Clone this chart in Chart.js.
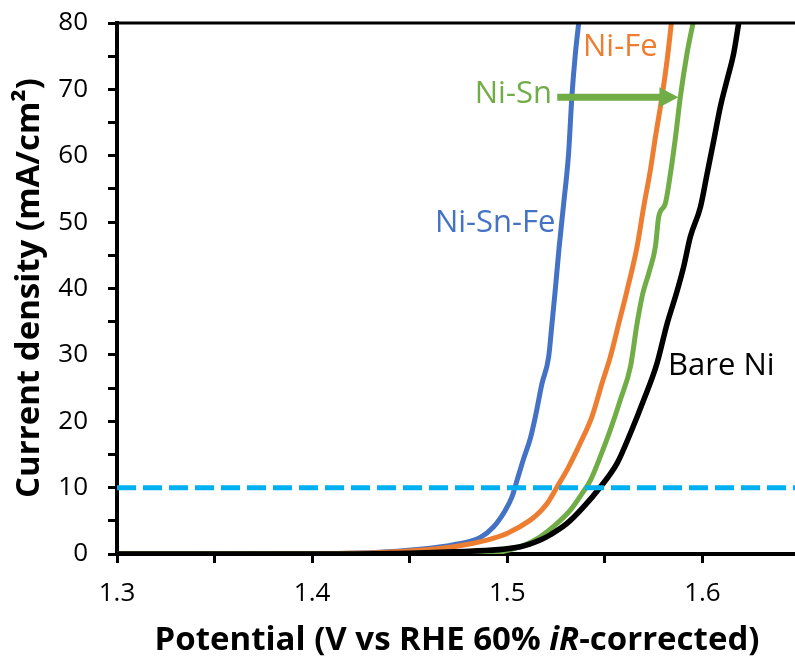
<!DOCTYPE html>
<html>
<head>
<meta charset="utf-8">
<script src="https://cdn.jsdelivr.net/npm/chart.js@4"></script>
<style>
  html, body { margin: 0; padding: 0; background: #fff; overflow: hidden; }
  #wrap { width: 800px; height: 660px; }
</style>
</head>
<body>
<div id="wrap"><canvas id="lsv" width="800" height="660"></canvas></div>
<script>
// Polarisation curves: potential (V vs RHE, 60% iR-corrected) and current density (mA/cm2)
const niSnFeV = [1.300, 1.350, 1.400, 1.430, 1.455, 1.4725, 1.4862, 1.4930, 1.4990, 1.5024, 1.5050, 1.5084, 1.5118, 1.5144, 1.5178, 1.5212, 1.5229, 1.5245, 1.5265, 1.5289, 1.5314, 1.5331, 1.5349, 1.5366];
const niSnFeJ = [0.0, 0.0, 0.05, 0.2, 0.7, 1.4, 2.5, 4.1, 6.6, 8.6, 11.1, 14.4, 17.4, 20.7, 25.7, 29.7, 34.7, 39.5, 46.0, 52.8, 60.3, 68.9, 75.4, 80.0];

const niFeV = [1.300, 1.400, 1.440, 1.4725, 1.4896, 1.4998, 1.5118, 1.5169, 1.5204, 1.5255, 1.5314, 1.5374, 1.5434, 1.5485, 1.5528, 1.5571, 1.5612, 1.5665, 1.5699, 1.5733, 1.5759, 1.5793, 1.5819, 1.5841];
const niFeJ = [0.0, 0.05, 0.3, 1.1, 2.1, 3.1, 5.1, 6.4, 7.6, 10.1, 13.1, 16.7, 20.7, 25.7, 29.7, 34.7, 39.5, 46.3, 52.3, 57.8, 62.8, 68.9, 74.4, 80.0];

const niSnV = [1.300, 1.450, 1.4896, 1.5067, 1.5169, 1.5255, 1.5323, 1.5383, 1.5426, 1.5477, 1.5528, 1.5579, 1.5631, 1.5665, 1.5694, 1.5725, 1.5759, 1.5776, 1.5810, 1.5836, 1.5862, 1.5887, 1.5921, 1.5952];
const niSnJ = [0.0, 0.0, 0.1, 1.1, 2.6, 4.6, 6.6, 9.1, 11.1, 14.7, 18.7, 23.2, 28.2, 34.7, 39.2, 42.3, 46.3, 50.8, 52.8, 57.3, 62.8, 68.9, 75.4, 80.0];

const bareNiV = [1.300, 1.400, 1.4725, 1.5067, 1.5169, 1.5221, 1.5306, 1.5391, 1.5477, 1.5563, 1.5631, 1.5699, 1.5767, 1.5819, 1.5866, 1.5904, 1.5938, 1.5990, 1.6024, 1.6058, 1.6092, 1.6126, 1.6160, 1.6186];
const bareNiJ = [0.0, 0.0, 0.35, 1.1, 2.1, 2.9, 4.6, 7.1, 10.1, 13.7, 18.2, 23.2, 28.7, 34.7, 39.2, 43.3, 47.8, 52.3, 57.3, 62.3, 67.4, 71.4, 75.4, 80.0];

// 10 mA/cm2 benchmark line
const benchmarkJ = 10;

// Axis ranges and tick spacing
const xMin = 1.3, xMax = 1.65, xStep = 0.05;
const yMin = 0, yMax = 80, yStep = 5;

// Curve labels: [text, potential, current density, colour]
const curveLabels = [
  ['Ni-Fe', 1.5579, 76.4, '#ED7D31'],
  ['Ni-Sn', 1.5031, 69.3, '#70AD47'],
  ['Ni-Sn-Fe', 1.4938, 49.8, '#4472C4'],
  ['Bare Ni', 1.6097, 28.3, '#000000']
];
// Arrow from the Ni-Sn label to its curve: [x start, x tip, current density]
const nisnArrow = [1.5256, 1.5877, 68.8];

const FONT = '"Open Sans", "DejaVu Sans", sans-serif';

function pts(xs, ys) { return xs.map((x, i) => ({ x: x, y: ys[i] })); }

const overlay = {
  id: 'overlay',
  afterDatasetsDraw(chart) {
    const { ctx, chartArea, scales } = chart;
    const xs = scales.x, ys = scales.y;
    ctx.save();
    // top frame line
    ctx.strokeStyle = '#000';
    ctx.lineWidth = 3;
    ctx.beginPath();
    ctx.moveTo(chartArea.left, chartArea.top);
    ctx.lineTo(chartArea.right, chartArea.top);
    ctx.stroke();

    // curve labels
    ctx.font = '31px ' + FONT;
    ctx.textAlign = 'center';
    ctx.textBaseline = 'middle';
    curveLabels.forEach(([t, vx, vy, c]) => {
      ctx.fillStyle = c;
      ctx.fillText(t, xs.getPixelForValue(vx), ys.getPixelForValue(vy));
    });

    // arrow
    const ax0 = xs.getPixelForValue(nisnArrow[0]);
    const ax1 = xs.getPixelForValue(nisnArrow[1]);
    const ay = ys.getPixelForValue(nisnArrow[2]);
    const head = 19;
    ctx.strokeStyle = '#70AD47';
    ctx.fillStyle = '#70AD47';
    ctx.lineWidth = 7;
    ctx.beginPath();
    ctx.moveTo(ax0, ay);
    ctx.lineTo(ax1 - head + 2, ay);
    ctx.stroke();
    ctx.beginPath();
    ctx.moveTo(ax1, ay);
    ctx.lineTo(ax1 - head, ay - 10);
    ctx.lineTo(ax1 - head, ay + 10);
    ctx.closePath();
    ctx.fill();
    ctx.restore();
  },
  afterDraw(chart) {
    const { ctx } = chart;
    ctx.save();
    ctx.fillStyle = '#000';
    ctx.textBaseline = 'middle';
    // x-axis title with italic iR
    const segs = [
      ['Potential (V vs RHE 60% ', 'bold 33px ' + FONT],
      ['iR', 'italic bold 33px ' + FONT],
      ['-corrected)', 'bold 33px ' + FONT]
    ];
    let total = 0;
    segs.forEach(([t, f]) => { ctx.font = f; total += ctx.measureText(t).width; });
    let x = 457 - total / 2;
    ctx.textAlign = 'left';
    segs.forEach(([t, f]) => {
      ctx.font = f;
      ctx.fillText(t, x, 641);
      x += ctx.measureText(t).width;
    });
    // y-axis title
    ctx.translate(30, 288);
    ctx.rotate(-Math.PI / 2);
    ctx.textAlign = 'center';
    ctx.font = 'bold 33px ' + FONT;
    ctx.fillText('Current density (mA/cm\u00B2)', 0, 0);
    ctx.restore();
  }
};

new Chart(document.getElementById('lsv'), {
  type: 'scatter',
  data: {
    datasets: [
      { label: '10 mA/cm2', data: [{ x: xMin, y: benchmarkJ }, { x: xMax, y: benchmarkJ }],
        borderColor: '#00B0F0', borderWidth: 5, borderDash: [19, 7], order: 0 },
      { label: 'Bare Ni', data: pts(bareNiV, bareNiJ), borderColor: '#000000', borderWidth: 5.5, order: 1 },
      { label: 'Ni-Sn', data: pts(niSnV, niSnJ), borderColor: '#70AD47', borderWidth: 5, order: 2 },
      { label: 'Ni-Fe', data: pts(niFeV, niFeJ), borderColor: '#ED7D31', borderWidth: 5, order: 3 },
      { label: 'Ni-Sn-Fe', data: pts(niSnFeV, niSnFeJ), borderColor: '#4472C4', borderWidth: 5, order: 4 }
    ].map(d => Object.assign({ showLine: true, pointRadius: 0, fill: false, cubicInterpolationMode: 'monotone', borderCapStyle: 'butt' }, d))
  },
  options: {
    responsive: false,
    animation: false,
    events: [],
    layout: { padding: { top: 23, right: 0, left: 0, bottom: 0 } },
    plugins: { legend: { display: false }, tooltip: { enabled: false } },
    scales: {
      x: {
        type: 'linear', min: xMin, max: xMax,
        afterFit(s) { s.height = 106; s.paddingLeft = 0; s.paddingRight = 0; },
        afterBuildTicks(s) {
          const t = [];
          for (let v = xMin; v <= xMax + 1e-9; v += xStep) t.push({ value: Math.round(v * 100) / 100 });
          s.ticks = t;
        },
        ticks: {
          color: '#000', font: { family: FONT, size: 26 }, padding: 15, maxRotation: 0, autoSkip: false,
          callback(v) { const r = Math.round(v * 10); return Math.abs(v * 10 - r) < 1e-6 ? (r / 10).toFixed(1) : ''; }
        },
        grid: { drawOnChartArea: false, drawTicks: true, tickLength: 9, tickWidth: 3, tickColor: '#000' },
        border: { display: true, color: '#000', width: 4 }
      },
      y: {
        type: 'linear', min: yMin, max: yMax,
        afterFit(s) { s.width = 117; s.paddingTop = 0; s.paddingBottom = 0; },
        ticks: {
          stepSize: yStep, color: '#000', font: { family: FONT, size: 26 }, padding: 20, autoSkip: false,
          callback(v) { return v % 10 === 0 ? String(v) : ''; }
        },
        grid: { drawOnChartArea: false, drawTicks: true, tickLength: 9, tickWidth: 3, tickColor: '#000' },
        border: { display: true, color: '#000', width: 4 }
      }
    }
  },
  plugins: [overlay]
});
</script>
</body>
</html>
